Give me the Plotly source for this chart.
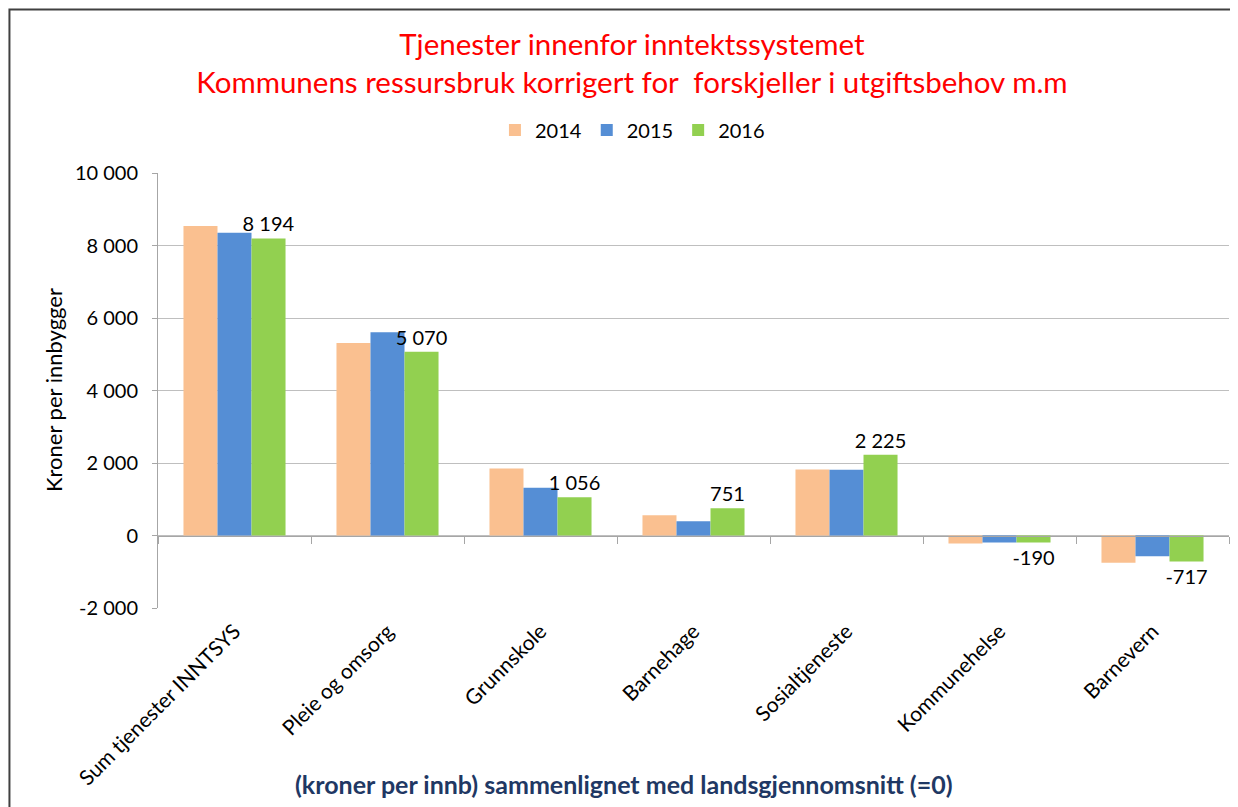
import plotly.graph_objects as go

categories = ["Sum tjenester INNTSYS", "Pleie og omsorg", "Grunnskole", "Barnehage",
              "Sosialtjeneste", "Kommunehelse", "Barnevern"]
series_names = ["2014", "2015", "2016"]
values_2014 = [8540, 5310, 1850, 560, 1820, -220, -750]
values_2015 = [8350, 5610, 1320, 390, 1815, -190, -570]
values_2016 = [8194, 5070, 1056, 751, 2225, -190, -717]
colors = ["#FAC090", "#558ED5", "#92D050"]
y_tick_vals = [-2000, 0, 2000, 4000, 6000, 8000, 10000]

FONT = "Lato"


def fmt(v):
    return f"{v:,}".replace(",", " ")


fig = go.Figure()
for name, vals, col in zip(series_names, [values_2014, values_2015, values_2016], colors):
    kw = {}
    if name == "2016":
        kw = dict(text=[fmt(v) for v in vals], textposition="outside",
                  textfont=dict(family=FONT, size=20, color="#000000"),
                  constraintext="none", cliponaxis=False)
    fig.add_trace(go.Bar(x=categories, y=vals, name=name, marker=dict(color=col, line=dict(width=0)),
                         **kw))

# helper trace for the category axis drawn at y = 0 (tick marks between categories)
fig.add_trace(go.Scatter(x=categories, y=[0] * len(categories), xaxis="x2", mode="markers",
                         marker=dict(opacity=0), showlegend=False, hoverinfo="skip"))

fig.update_layout(
    width=1238, height=807,
    margin=dict(l=150, r=17, t=165, b=207, autoexpand=False),
    paper_bgcolor="white", plot_bgcolor="white",
    barmode="group", bargap=0.333, bargroupgap=0,
    font=dict(family=FONT, color="#000000"),
    title=dict(text="Tjenester innenfor inntektssystemet<br>Kommunens ressursbruk korrigert for  forskjeller i utgiftsbehov m.m",
               x=0.504, xanchor="center", xref="container", y=0.942, yanchor="top", yref="container",
               font=dict(family=FONT, size=29.5, color="#FF0000")),
    legend=dict(orientation="h", x=0.443, xanchor="center", y=1.099, yanchor="middle",
                font=dict(family=FONT, size=20, color="#000000"), itemwidth=30,
                bgcolor="rgba(0,0,0,0)"),
    xaxis=dict(type="category", categoryarray=categories, range=[-0.5, 6.5], automargin=False,
               showline=False, showgrid=False, ticks="", tickangle=-45,
               tickfont=dict(family=FONT, size=21, color="#000000"), ticklabelstandoff=6),
    xaxis2=dict(type="category", categoryarray=categories, range=[-0.5, 6.5], automargin=False,
                overlaying="x", anchor="free", position=2000 / 12000, side="bottom",
                showline=True, linecolor="#A6A6A6", linewidth=1,
                ticks="outside", tickson="boundaries", ticklen=7, tickcolor="#A6A6A6",
                showticklabels=False, showgrid=False),
    yaxis=dict(range=[-2000, 10000], tickvals=y_tick_vals, ticktext=[fmt(v) for v in y_tick_vals],
               automargin=False,
               showgrid=True, gridcolor="#BFBFBF", gridwidth=1,
               zeroline=False, showline=True, linecolor="#A6A6A6", linewidth=1,
               ticks="outside", ticklen=5, tickcolor="#A6A6A6", ticklabelstandoff=10,
               tickfont=dict(family=FONT, size=20, color="#000000")),
    annotations=[
        dict(text="Kroner per innbygger", textangle=-90, xref="paper", yref="paper",
             x=-0.098, y=0.501, xanchor="center", yanchor="middle", showarrow=False,
             font=dict(family=FONT, size=22, color="#000000")),
        dict(text="<b>(kroner per innb) sammenlignet med landsgjennomsnitt (=0)</b>",
             xref="paper", yref="paper", x=0.435, y=-0.405, xanchor="center", yanchor="middle",
             showarrow=False, font=dict(family=FONT, size=25, color="#1F3864")),
    ],
    shapes=[
        dict(type="rect", xref="paper", yref="paper", x0=-0.1387, x1=1.2, y0=-1.0, y1=1.376,
             line=dict(color="#404040", width=2), fillcolor="rgba(0,0,0,0)", layer="below"),
    ],
)

fig.write_html("out.html")
